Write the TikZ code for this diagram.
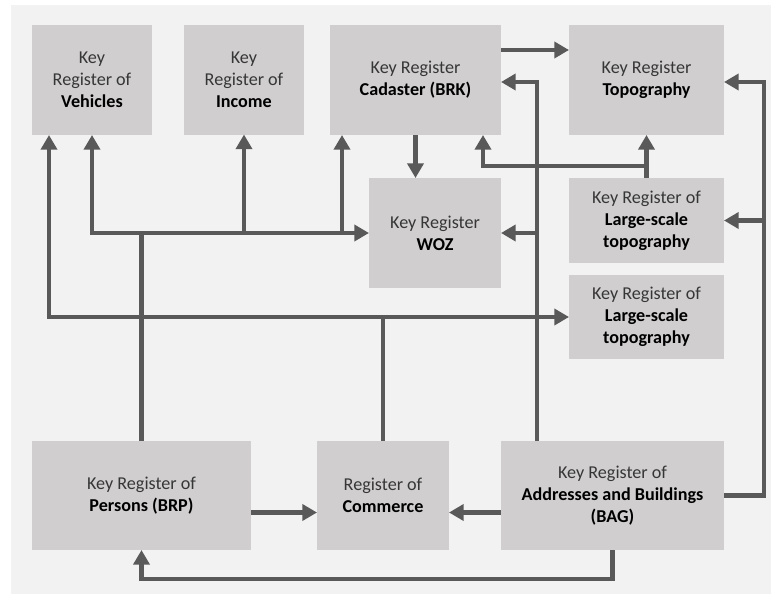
\documentclass[tikz,border=0pt]{standalone}
\usepackage{fontspec}
\setmainfont{Carlito}
\usetikzlibrary{arrows.meta,calc}
\definecolor{pagebg}{HTML}{F2F2F2}
\definecolor{boxfill}{HTML}{D0CECE}
\definecolor{wire}{HTML}{595959}
\definecolor{txt}{HTML}{363636}
\newcommand{\kw}[1]{\textcolor{black}{\textbf{#1}}}
\begin{document}
\begin{tikzpicture}[x=0.75pt,y=-0.75pt,
  reg/.style={fill=boxfill, inner sep=0pt, outer sep=0pt, align=center,
    text=txt, font=\fontsize{13.6}{16.5}\selectfont},
  conn/.style={draw=wire, line width=3.4pt, -{Triangle[width=12pt,length=11pt]}},
  wireonly/.style={draw=wire, line width=3.4pt}]

% canvas
\useasboundingbox (0,0) rectangle (772,596);
\fill[white] (0,0) rectangle (772,596);
\fill[pagebg] (11,5) rectangle (771,594);

% registers
\node[reg, minimum width=90pt, minimum height=82.5pt] (veh) at (92,80)
  {Key\\Register of\\\kw{Vehicles}};
\node[reg, minimum width=90pt, minimum height=82.5pt] (inc) at (244,79.5)
  {Key\\Register of\\\kw{Income}};
\node[reg, minimum width=128.25pt, minimum height=82.5pt] (cad) at (415.5,80)
  {Key Register\\\kw{Cadaster (BRK)}};
\node[reg, minimum width=116.25pt, minimum height=82.5pt] (topo) at (646.5,80)
  {Key Register\\\kw{Topography}};
\node[reg, minimum width=99pt, minimum height=82.5pt] (woz) at (435,233)
  {Key Register\\\kw{WOZ}};
\node[reg, minimum width=116.25pt, minimum height=63.75pt] (ls1) at (646.5,220.5)
  {Key Register of\\\kw{Large-scale}\\\kw{topography}};
\node[reg, minimum width=116.25pt, minimum height=63pt] (ls2) at (646.5,317)
  {Key Register of\\\kw{Large-scale}\\\kw{topography}};
\node[reg, minimum width=164.25pt, minimum height=81.75pt] (per) at (141.5,495.5)
  {Key Register of\\\kw{Persons (BRP)}};
\node[reg, minimum width=99pt, minimum height=81.75pt] (com) at (383,495.5)
  {Register of\\\kw{Commerce}};
\node[reg, minimum width=167.25pt, minimum height=81.75pt] (bag) at (612.5,495.5)
  {Key Register of\\\kw{Addresses and Buildings}\\\kw{(BAG)}};

% helper points
\coordinate (cadin) at ($(cad.south west)+(12,0)$);
\coordinate (vehin) at ($(veh.south west)+(17,0)$);
\coordinate (bagup) at ($(bag.north west)+(36,0)$);
\coordinate (bagrt) at ($(bag.east)+(40,0)$);
\coordinate (cadlow) at ($(cad.south east)+(-18,0)$);

% Persons (BRP) bus
\draw[conn] (per.north) |- (woz.west);
\draw[conn] (per.north |- woz.west) -| (veh.south);
\draw[conn] (inc.south |- woz.west) -- (inc.south);
\draw[conn] (cadin |- woz.west) -- (cadin);

% Commerce bus
\draw[conn] (com.north) |- (ls2.west);
\draw[conn] (com.north |- ls2.west) -| (vehin);

% Cadaster links
\draw[conn] ($(cad.east)+(0,-30)$) -- ($(topo.west)+(0,-30)$);
\draw[conn] (cad.south) -- (cad.south |- woz.north);

% Large-scale topography links
\draw[conn] (ls1.north) -- (topo.south);
\draw[conn] ($(ls1.north)+(0,-12)$) -| (cadlow);

% BAG links
\draw[conn] (bagup) |- ($(cad.east)+(0,2)$);
\draw[conn] (bagup |- woz.east) -- (woz.east);
\draw[conn] (bag.east) -- (bagrt) |- ($(topo.east)+(0,2)$);
\draw[conn] (bagrt |- ls1.east) -- (ls1.east);
\draw[conn] (bag.south) -- ++(0,29) -| (per.south);
\draw[conn] ($(bag.west)+(0,17)$) -- ($(com.east)+(0,17)$);
\draw[conn] ($(per.east)+(0,17)$) -- ($(com.west)+(0,17)$);
\end{tikzpicture}
\end{document}
